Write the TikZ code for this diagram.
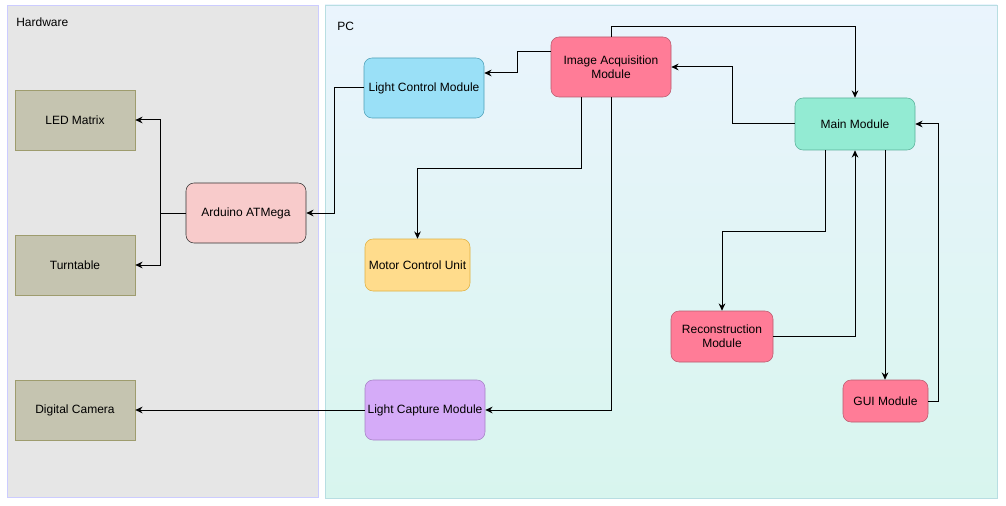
\documentclass[tikz,border=0pt]{standalone}
\usepackage{fontspec}
\setmainfont{Liberation Sans}
\usepackage{tikz}
\usetikzlibrary{arrows.meta, positioning}

\definecolor{hwfill}{HTML}{E6E6E6}
\definecolor{hwline}{HTML}{CCCCFF}
\definecolor{pctop}{HTML}{EAF4FD}
\definecolor{pcbot}{HTML}{D8F5EE}
\definecolor{pcline}{HTML}{B8DEE2}
\definecolor{devfill}{HTML}{C5C4B0}
\definecolor{devline}{HTML}{9E9C6E}
\definecolor{ardfill}{HTML}{F8CBCB}
\definecolor{lightfill}{HTML}{9AE0F7}
\definecolor{lightline}{HTML}{4FA0B8}
\definecolor{modfill}{HTML}{FF7C97}
\definecolor{modline}{HTML}{B85A6E}
\definecolor{mainfill}{HTML}{93EBD3}
\definecolor{mainline}{HTML}{5AB09A}
\definecolor{motorfill}{HTML}{FFDC8C}
\definecolor{motorline}{HTML}{E0B040}
\definecolor{capfill}{HTML}{D5ABF8}
\definecolor{capline}{HTML}{A583C4}

\begin{document}
\begin{tikzpicture}[x=0.75pt, y=-0.75pt,
    every node/.style={font=\fontsize{9}{10.5}\selectfont, align=center, inner sep=0pt},
    device/.style={draw=devline, fill=devfill, minimum width=90pt, minimum height=45pt},
    module/.style={draw, rounded corners=6pt, minimum width=90pt, minimum height=45pt},
    link/.style={-{Stealth[length=5.5pt,width=5pt]}, line width=0.75pt}
  ]
    \useasboundingbox (0,0) rectangle (1006,506);

    % Containers
    \draw[hwline, fill=hwfill] (7,5) rectangle (318,497);
    \draw[pcline, top color=pctop, bottom color=pcbot] (325,5) rectangle (997,498);
    \node[anchor=west] (hwlabel) at (16,22) {Hardware};
    \node[anchor=west] (pclabel) at (337,26) {PC};

    % Hardware side
    \node[device] (led) at (75,120) {LED Matrix};
    \node[device] (turn) at (75,265) {Turntable};
    \node[device] (cam) at (75,410) {Digital Camera};
    \node[module, draw=black!80, fill=ardfill] (ard) at (246,213) {Arduino ATMega};

    % PC side
    \node[module, draw=lightline, fill=lightfill] (lcm) at (424,88) {Light Control Module};
    \node[module, draw=modline, fill=modfill] (iam) at (611,67) {Image Acquisition\\Module};
    \node[module, draw=mainline, fill=mainfill, minimum height=39pt] (main) at (855,124) {Main Module};
    \node[module, draw=motorline, fill=motorfill, minimum width=78.75pt, minimum height=39pt] (mcu) at (417.5,265) {Motor Control Unit};
    \node[module, draw=capline, fill=capfill] (lcap) at (425,410) {Light Capture Module};
    \node[module, draw=modline, fill=modfill, minimum width=76.5pt, minimum height=38.25pt] (rec) at (722,336.5) {Reconstruction\\Module};
    \node[module, draw=modline, fill=modfill, minimum width=63.75pt, minimum height=31.5pt] (gui) at (885.5,401) {GUI Module};

    % Connections
    \draw[link] (ard.west) -- ++(-25,0) coordinate (fork) |- (led.east);
    \draw[link] (fork) |- (turn.east);
    \draw[link] (lcm.west) -- ++(-29,0) |- (ard.east);
    \draw[link] ([yshift=11.25pt]iam.west) -- ++(-33,0) |- ([yshift=11.25pt]lcm.east);
    \draw[link] ([xshift=-22.5pt]iam.south) -- ++(0,71) -| (mcu.north);
    \draw[link] (iam.south) |- (lcap.east);
    \draw[link] (iam.north) -- ++(0,-10) -| (main.north);
    \draw[link] (main.west) -- ++(-62,0) |- (iam.east);
    \draw[link] ([xshift=-22.5pt]main.south) -- ++(0,81) -| (rec.north);
    \draw[link] (rec.east) -| (main.south);
    \draw[link] ([xshift=22.5pt]main.south) -- ([xshift=22.5pt]main.south |- gui.north);
    \draw[link] (gui.east) -- ++(10,0) |- (main.east);
    \draw[link] (lcap.west) -- (cam.east);
\end{tikzpicture}
\end{document}
